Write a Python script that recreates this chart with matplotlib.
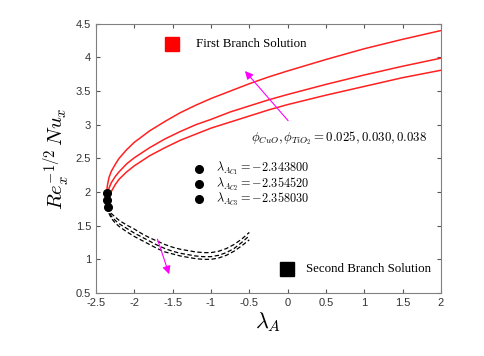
import matplotlib
matplotlib.use("Agg")
import matplotlib.pyplot as plt

plt.rcParams["mathtext.fontset"] = "cm"
plt.rcParams["font.family"] = "Liberation Sans"

# critical points (turning points)
lam_c = [-2.358030, -2.354520, -2.343800]
nu_c = [1.99, 1.88, 1.78]

# first branch (solid red)
x_up1 = [-2.358, -2.355, -2.35, -2.33, -2.3, -2.25, -2.2, -2.1, -2.0, -1.8, -1.6, -1.4, -1.2, -1.0, -0.75, -0.5, -0.25, 0, 0.5, 1.0, 1.5, 2.0]
y_up1 = [1.99, 2.07, 2.11, 2.22, 2.31, 2.41, 2.50, 2.63, 2.74, 2.91, 3.05, 3.18, 3.29, 3.39, 3.50, 3.61, 3.71, 3.80, 3.97, 4.13, 4.27, 4.40]
x_up2 = [-2.3545, -2.35, -2.345, -2.33, -2.3, -2.25, -2.2, -2.1, -2.0, -1.8, -1.6, -1.4, -1.2, -1.0, -0.75, -0.5, -0.25, 0, 0.5, 1.0, 1.5, 2.0]
y_up2 = [1.88, 1.96, 1.99, 2.06, 2.14, 2.23, 2.30, 2.42, 2.51, 2.66, 2.79, 2.90, 3.00, 3.08, 3.19, 3.28, 3.37, 3.45, 3.60, 3.74, 3.87, 3.99]
x_up3 = [-2.3438, -2.34, -2.335, -2.32, -2.3, -2.25, -2.2, -2.1, -2.0, -1.8, -1.6, -1.4, -1.2, -1.0, -0.75, -0.5, -0.25, 0, 0.5, 1.0, 1.5, 2.0]
y_up3 = [1.78, 1.85, 1.89, 1.95, 2.01, 2.11, 2.19, 2.30, 2.39, 2.54, 2.66, 2.77, 2.86, 2.95, 3.04, 3.13, 3.22, 3.30, 3.44, 3.57, 3.70, 3.81]

# second branch (dashed black)
x_lo1 = [-2.358, -2.355, -2.35, -2.33, -2.3, -2.25, -2.2, -2.1, -2.0, -1.9, -1.8, -1.7, -1.6, -1.5, -1.4, -1.3, -1.2, -1.1, -1.0, -0.9, -0.8, -0.7, -0.6, -0.5]
y_lo1 = [1.99, 1.88, 1.78, 1.68, 1.61, 1.54, 1.49, 1.41, 1.34, 1.28, 1.22, 1.16, 1.11, 1.08, 1.05, 1.03, 1.01, 1.00, 1.00, 1.02, 1.06, 1.12, 1.20, 1.29]
x_lo2 = [-2.3545, -2.35, -2.33, -2.3, -2.25, -2.2, -2.1, -2.0, -1.9, -1.8, -1.7, -1.6, -1.5, -1.4, -1.3, -1.2, -1.1, -1.0, -0.9, -0.8, -0.7, -0.6, -0.5]
y_lo2 = [1.88, 1.80, 1.71, 1.64, 1.58, 1.53, 1.46, 1.39, 1.33, 1.27, 1.21, 1.16, 1.12, 1.09, 1.07, 1.05, 1.04, 1.04, 1.06, 1.10, 1.16, 1.25, 1.35]
x_lo3 = [-2.3438, -2.33, -2.3, -2.25, -2.2, -2.1, -2.0, -1.9, -1.8, -1.7, -1.6, -1.5, -1.4, -1.3, -1.2, -1.1, -1.0, -0.9, -0.8, -0.7, -0.6, -0.5]
y_lo3 = [1.78, 1.73, 1.68, 1.63, 1.58, 1.51, 1.45, 1.38, 1.32, 1.27, 1.22, 1.18, 1.15, 1.13, 1.11, 1.10, 1.10, 1.12, 1.16, 1.22, 1.30, 1.40]

lam_labels = ["$\\lambda_{A_{C1}} = -2.343800$",
              "$\\lambda_{A_{C2}} = -2.354520$",
              "$\\lambda_{A_{C3}} = -2.358030$"]

fig = plt.figure(figsize=(4.85, 3.56), dpi=100)
ax = fig.add_axes([0.198, 0.177, 0.711, 0.756])

for xs, ys in [(x_up1, y_up1), (x_up2, y_up2), (x_up3, y_up3)]:
    ax.plot(xs, ys, color="#ff2020", lw=1.1)
for xs, ys in [(x_lo1, y_lo1), (x_lo2, y_lo2), (x_lo3, y_lo3)]:
    ax.plot(xs, ys, color="black", lw=0.9, ls=(0, (3.5, 2)))
ax.plot(lam_c, nu_c, "o", color="black", ms=5.5, zorder=5)

# legend-like annotations
ax.plot([-1.51], [4.20], "s", color="red", ms=10)
ax.text(-1.20, 4.20, "First Branch Solution", family="Liberation Serif", fontsize=9.25, va="center")
ax.plot([-0.01], [0.86], "s", color="black", ms=10)
ax.text(0.24, 0.86, "Second Branch Solution", family="Liberation Serif", fontsize=9.25, va="center")

for yy, lab in zip([2.35, 2.12, 1.89], lam_labels):
    ax.plot([-1.16], [yy], "o", color="black", ms=5.5)
    ax.text(-0.94, yy, lab, fontsize=8.8, va="center")

ax.text(-0.48, 2.80, "$\\phi_{CuO}, \\phi_{TiO_2} = 0.025, 0.030, 0.038$", fontsize=9.3, va="center")

ax.annotate("", xy=(-0.58, 3.83), xytext=(0.03, 3.03),
            arrowprops=dict(arrowstyle="-|>", color="magenta", lw=0.8, mutation_scale=12))
ax.annotate("", xy=(-1.535, 0.74), xytext=(-1.71, 1.34),
            arrowprops=dict(arrowstyle="-|>", color="magenta", lw=0.8, mutation_scale=12))

ax.set_xlim(-2.5, 2)
ax.set_ylim(0.5, 4.5)
ax.set_xticks([-2.5, -2, -1.5, -1, -0.5, 0, 0.5, 1, 1.5, 2])
ax.set_xticklabels(["-2.5", "-2", "-1.5", "-1", "-0.5", "0", "0.5", "1", "1.5", "2"])
ax.set_yticks([0.5, 1, 1.5, 2, 2.5, 3, 3.5, 4, 4.5])
ax.set_yticklabels(["0.5", "1", "1.5", "2", "2.5", "3", "3.5", "4", "4.5"])
ax.tick_params(direction="in", top=True, right=True, labelsize=8, colors="#555555",
               labelcolor="#333333", length=3)
for s in ax.spines.values():
    s.set_color("#808080")
    s.set_linewidth(0.8)

ax.set_xlabel("$\\lambda_A$", fontsize=16, labelpad=2)
ax.set_ylabel("$Re_x^{-1/2}\\,Nu_x$", fontsize=15, labelpad=3)

fig.savefig("out.png", dpi=100)
plt.close(fig)
